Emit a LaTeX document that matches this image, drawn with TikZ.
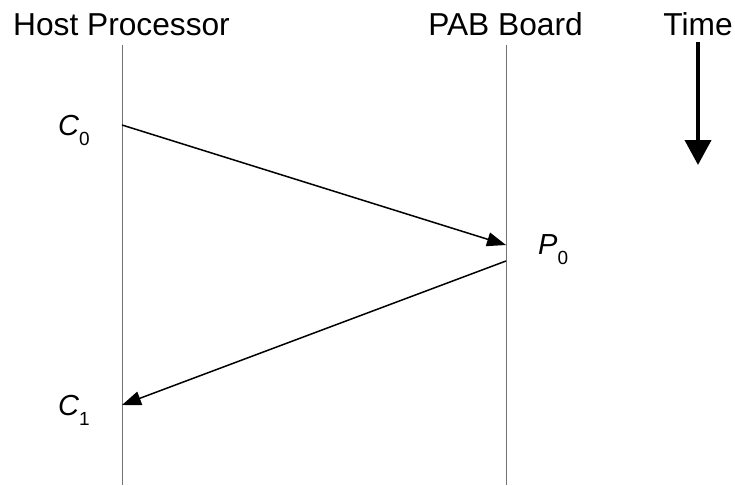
\documentclass[tikz,border=0pt]{standalone}
\usepackage{fontspec}
\setmainfont{Liberation Sans}
\usetikzlibrary{arrows.meta}
\tikzset{
  head/.style={font=\fontsize{31.7}{36}\selectfont, anchor=base, inner sep=0pt},
  lbl/.style={font=\fontsize{29}{32}\selectfont, anchor=base west, inner sep=0pt},
  lifeline/.style={draw=black!55, line width=1pt},
  msg/.style={draw=black, line width=1.5pt, -{Triangle[length=19pt,width=14pt]}},
  timearrow/.style={draw=black, line width=4pt, -{Triangle[length=25pt,width=26pt]}}
}
\newcommand{\evlabel}[2]{\itshape #1\upshape\raisebox{-10pt}{\fontsize{19}{20}\selectfont #2}}
\begin{document}
\begin{tikzpicture}[x=1pt,y=-1pt]
\useasboundingbox (0,0) rectangle (735,485);
\node[head] (host) at (121.5,35) {Host Processor};
\node[head] (pab) at (505.5,35) {PAB Board};
\node[head] (time) at (698,35) {Time};
\coordinate (hTop) at (122,45);
\coordinate (hBot) at (122,485);
\coordinate (pTop) at (506,45);
\coordinate (pBot) at (506,485);
\draw[lifeline] (hTop) -- (hBot);
\draw[lifeline] (pTop) -- (pBot);
\coordinate (c0) at (122,125);
\coordinate (p0in) at (506,245);
\coordinate (p0out) at (506,261);
\coordinate (c1) at (122,405);
\draw[msg] (c0) -- (p0in);
\draw[msg] (p0out) -- (c1);
\node[lbl] (C0) at (58,135) {\evlabel{C}{0}};
\node[lbl] (P0) at (538,254) {\evlabel{P}{0}};
\node[lbl] (C1) at (58,415) {\evlabel{C}{1}};
\coordinate (tTop) at (698,42);
\coordinate (tBot) at (698,165);
\draw[timearrow] (tTop) -- (tBot);
\end{tikzpicture}
\end{document}
